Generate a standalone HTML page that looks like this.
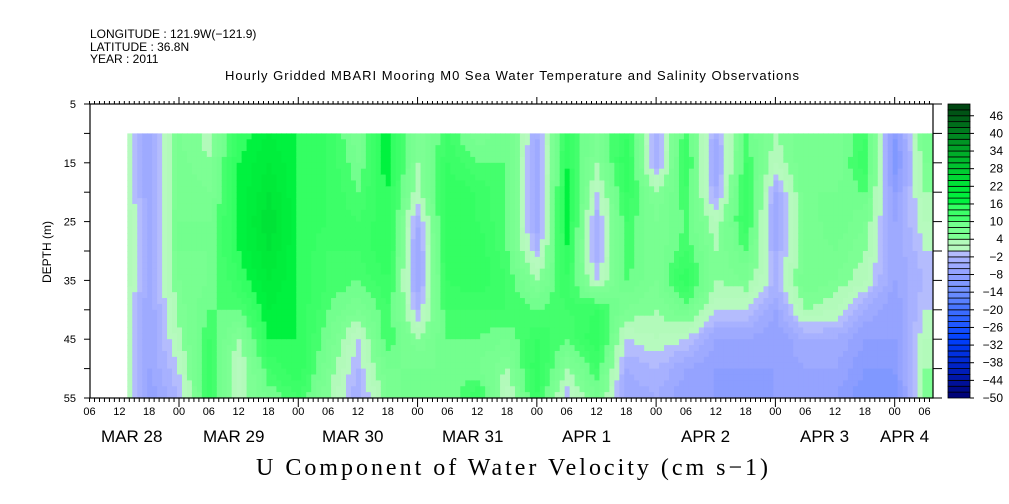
<!DOCTYPE html>
<html><head><meta charset="utf-8"><style>
html,body{margin:0;padding:0;background:#fff;}
svg{display:block;font-family:"Liberation Sans",sans-serif;}
</style></head><body>
<svg id="chart" width="1009" height="504" viewBox="0 0 1009 504">
<g id="heat"></g>
<g id="axes"></g>
<g id="cbar"></g>
<text x="90" y="38" font-size="12">LONGITUDE : 121.9W(−121.9)</text>
<text x="90" y="51" font-size="12">LATITUDE : 36.8N</text>
<text x="90" y="63" font-size="12">YEAR : 2011</text>
<text x="512" y="80" font-size="13" text-anchor="middle" textLength="574">Hourly Gridded MBARI Mooring M0 Sea Water Temperature and Salinity Observations</text>
<text x="512" y="475" font-size="24" text-anchor="middle" font-family="Liberation Serif, serif" textLength="512">U Component of Water Velocity (cm s−1)</text>
<text transform="translate(51,252) rotate(-90)" font-size="12" text-anchor="middle">DEPTH (m)</text>
</svg>
<script>
// hours relative to Mar 28 00:00
const hours = [-12,-6,0,6,12,18,24,30,36,42,48,54,60,66,72,78,84,90,96,102,108,114,120,126,132,138,144,150];
const depths = [10,15,20,25,30,35,40,45,50,55];
const values = [
[6,6,6,6,6,6,5,5,5,5],
[-6,-6,-6,-5,-5,-5,-6,-6,-6,-8],
[6,7,8,8,8,6,5,3,0,-2],
[3,4,6,8,8,8,10,12,14,12],
[14,16,16,16,16,14,10,4,0,2],
[18,20,22,24,22,20,18,16,12,8],
[16,16,16,16,16,16,16,16,16,12],
[14,14,14,14,12,12,10,8,6,4],
[6,8,10,12,12,10,6,0,-2,-4],
[18,18,16,16,16,14,12,12,8,6],
[4,4,2,-4,-6,-6,-2,4,8,10],
[12,14,16,16,16,14,12,10,8,8],
[6,10,14,14,16,16,12,10,8,14],
[10,10,10,10,10,12,12,8,4,0],
[-4,-6,-6,-6,-2,4,10,14,16,14],
[14,16,18,18,16,14,12,10,4,-2],
[6,4,0,-4,-4,0,14,16,12,8],
[14,16,14,12,12,10,6,0,-4,-6],
[-4,-4,4,6,6,6,4,2,-2,-4],
[12,14,12,10,12,16,8,0,-6,-8],
[-4,-6,-4,2,4,4,0,-6,-8,-8],
[10,12,14,14,10,6,0,-6,-8,-10],
[4,2,-4,-6,-4,-2,-6,-8,-8,-8],
[8,8,8,6,6,8,4,-4,-6,-8],
[6,6,8,10,8,6,2,-4,-6,-8],
[12,14,10,6,4,2,-4,-8,-10,-12],
[-10,-12,-8,-6,-6,-6,-8,-8,-10,-12],
[8,6,4,2,0,-2,0,2,4,4]
];
const colorbarLabels = [46,40,34,28,22,16,10,4,-2,-8,-14,-20,-26,-32,-38,-44,-50];
const depthTicks = [5,15,25,35,45,55];
const dateLabels = ["MAR 28","MAR 29","MAR 30","MAR 31","APR  1","APR  2","APR  3","APR  4"];
const dateLabelX = [101,203,322,442,562,681,800,880];
const dataStartHour = -10.4, dataEndHour = 151.7;

const X0=90, X1=933, Y0=104, Y1=398;
const HPX=4.97, ZX=179, H0=-18;
function xs(h){return ZX + h*HPX;}
function ys(d){return Y0 + (d-5)*(Y1-Y0)/50;}
const NS="http://www.w3.org/2000/svg";
function mk(tag,attrs,parent){const e=document.createElementNS(NS,tag);for(const k in attrs)e.setAttribute(k,attrs[k]);parent.appendChild(e);return e;}

const anchors=[[-50,[0,0,112]],[-40,[0,32,192]],[-30,[0,64,255]],[-20,[64,112,255]],[-14,[112,144,255]],[-8,[144,160,255]],[-2,[172,180,255]],[0,[188,196,250]],
[0.01,[184,250,192]],[4,[176,250,184]],[4.01,[128,255,150]],[10,[112,255,140]],[10.01,[72,255,112]],[16,[48,255,96]],[16.01,[0,244,64]],[22,[0,232,56]],[28,[0,200,48]],[34,[0,168,40]],[40,[0,128,32]],[50,[0,64,16]]];
function color(v){
  let b=Math.floor(v/2)*2+1;
  if(b<-49)b=-49; if(b>49)b=49;
  for(let i=0;i<anchors.length-1;i++){
    const a=anchors[i],c=anchors[i+1];
    if(b>=a[0]&&b<=c[0]){const t=(b-a[0])/(c[0]-a[0]);return `rgb(${a[1].map((q,j)=>Math.round(q+(c[1][j]-q)*t)).join(',')})`;}
  }
  return 'rgb(0,64,16)';
}
function interp(h,d){
  let i=0; while(i<hours.length-2 && h>hours[i+1]) i++;
  let tx=(h-hours[i])/(hours[i+1]-hours[i]); tx=Math.max(0,Math.min(1,tx));
  let j=0; while(j<depths.length-2 && d>depths[j+1]) j++;
  let ty=(d-depths[j])/(depths[j+1]-depths[j]); ty=Math.max(0,Math.min(1,ty));
  const a=values[i][j],b=values[i+1][j],c=values[i][j+1],e=values[i+1][j+1];
  return (a*(1-tx)+b*tx)*(1-ty)+(c*(1-tx)+e*tx)*ty;
}
const heat=document.getElementById('heat');
const dh=1, dd=1;
for(let h=dataStartHour; h<dataEndHour; h+=dh){
  const he=Math.min(h+dh,dataEndHour);
  for(let d=10; d<55; d+=dd){
    const v=interp(h+dh/2,d+dd/2);
    const r=mk('rect',{x:xs(h).toFixed(2),y:ys(d).toFixed(2),width:(xs(he)-xs(h)+0.6).toFixed(2),height:(ys(d+dd)-ys(d)+0.6).toFixed(2),fill:color(v)},heat);
    
    
  }
}
const ax=document.getElementById('axes');
const frame=mk('rect',{x:X0,y:Y0,width:X1-X0,height:Y1-Y0,fill:'none',stroke:'#000','stroke-width':1.2},ax);


for(let h=H0; h<=151; h++){
  const x=xs(h); const major=(((h%24)+24)%24===0);
  mk('line',{x1:x,y1:Y0,x2:x,y2:Y0-(major?7:3),stroke:'#000','stroke-width':1},ax);
  mk('line',{x1:x,y1:Y1,x2:x,y2:Y1+(major?9:4),stroke:'#000','stroke-width':1},ax);
  if(((h%6)+6)%6===0){
    const hh=((h%24)+24)%24;
    const t=mk('text',{x:x,y:415,'font-size':11,'text-anchor':'middle'},ax);
    t.textContent=(hh<10?'0':'')+hh;
    
    
  }
}
for(let d=5; d<=55; d+=5){
  const y=ys(d);
  mk('line',{x1:X0,y1:y,x2:X0-6,y2:y,stroke:'#000','stroke-width':1},ax);
  mk('line',{x1:X1,y1:y,x2:X1+9,y2:y,stroke:'#000','stroke-width':1},ax);
}
depthTicks.forEach(d=>{
  const t=mk('text',{x:76,y:ys(d)+4,'font-size':11,'text-anchor':'end'},ax);
  t.textContent=d;
  
  
});
dateLabels.forEach((s,i)=>{
  const t=mk('text',{x:dateLabelX[i],y:442,'font-size':17,'xml:space':'preserve'},ax);
  t.textContent=s;
  
  
});
const cb=document.getElementById('cbar');
const CX=948, CW=22;
function cy(v){return Y0+(50-v)*(Y1-Y0)/100;}
for(let v=-50; v<50; v+=2){
  const r=mk('rect',{x:CX,y:cy(v+2),width:CW,height:cy(v)-cy(v+2),fill:color(v+1),stroke:'#000','stroke-width':0.8},cb);
  
  
}
colorbarLabels.forEach(v=>{
  mk('line',{x1:CX+CW,y1:cy(v),x2:CX+CW+4,y2:cy(v),stroke:'#000'},cb);
  const t=mk('text',{x:1003,y:cy(v)+4,'font-size':12,'text-anchor':'end'},cb);
  t.textContent=v<0?'−'+(-v):String(v);
  
  
});
</script>
</body></html>
